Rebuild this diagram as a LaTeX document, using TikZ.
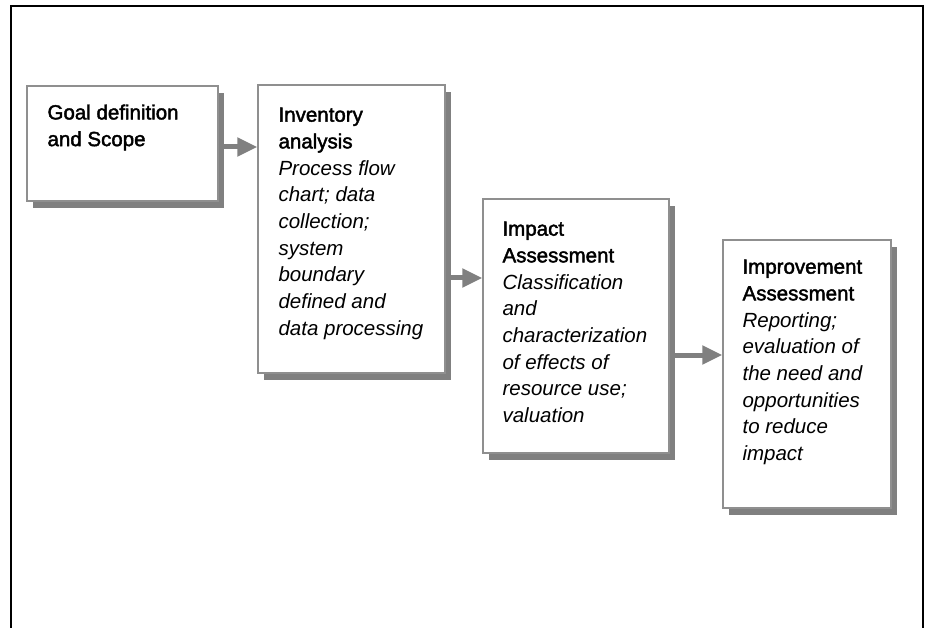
\documentclass[tikz,border=0pt]{standalone}
\usepackage{fontspec}
\setmainfont{Liberation Sans}
\newfontfamily\headfont[FakeBold=2]{Liberation Sans}
\usetikzlibrary{arrows.meta,shadows}
\definecolor{framegray}{rgb}{0.56,0.56,0.56}
\definecolor{shadegray}{rgb}{0.50,0.50,0.50}
\definecolor{arrowgray}{rgb}{0.50,0.50,0.50}
\begin{document}
\begin{tikzpicture}[x=1pt,y=-1pt,
  stagebox/.style={draw=framegray, line width=1.3pt, fill=white, inner sep=0pt,
    drop shadow={shadow xshift=6pt, shadow yshift=-7pt, fill=shadegray, opacity=1}},
  stagetext/.style={anchor=north west, inner sep=0pt, align=left,
    font=\fontsize{20.5}{26.7}\selectfont},
  flow/.style={draw=arrowgray, line width=5pt,
    -{Triangle[length=20pt,width=18pt]}}
]
\useasboundingbox (0,0) rectangle (926,628);

% open frame around the chart
\draw[line width=2pt, black] (11,628) -- (11,6) -- (923,6) -- (923,628);

% stage boxes
\node[stagebox, minimum width=191pt, minimum height=115pt] (b1) at (122.5,143.5) {};
\node[stagebox, minimum width=187pt, minimum height=288pt] (b2) at (351.5,229) {};
\node[stagebox, minimum width=186pt, minimum height=254pt] (b3) at (576,326) {};
\node[stagebox, minimum width=168pt, minimum height=268pt] (b4) at (807,374) {};

% flow arrows between stages
\draw[flow] ([yshift=-3.5pt]b1.east) -- ([yshift=-3.5pt]b1.east -| b2.west);
\draw[flow] ([yshift=-49pt]b2.east) -- ([yshift=-49pt]b2.east -| b3.west);
\draw[flow] ([yshift=-29pt]b3.east) -- ([yshift=-29pt]b3.east -| b4.west);

% stage texts
\node[stagetext] (t1) at ([shift={(21,19)}]b1.north west)
  {{\headfont Goal definition}\\{\headfont and Scope}};
\node[stagetext] (t2) at ([shift={(21,23)}]b2.north west)
  {{\headfont Inventory}\\{\headfont analysis}\\
   \itshape Process flow\\\itshape chart; data\\\itshape collection;\\
   \itshape system\\\itshape boundary\\\itshape defined and\\
   \itshape data processing};
\node[stagetext] (t3) at ([shift={(20,23)}]b3.north west)
  {{\headfont Impact}\\{\headfont Assessment}\\
   \itshape Classification\\\itshape and\\\itshape characterization\\
   \itshape of effects of\\\itshape resource use;\\\itshape valuation};
\node[stagetext] (t4) at ([shift={(20,20)}]b4.north west)
  {{\headfont Improvement}\\{\headfont Assessment}\\
   \itshape Reporting;\\\itshape evaluation of\\\itshape the need and\\
   \itshape opportunities\\\itshape to reduce\\\itshape impact};
\end{tikzpicture}
\end{document}
